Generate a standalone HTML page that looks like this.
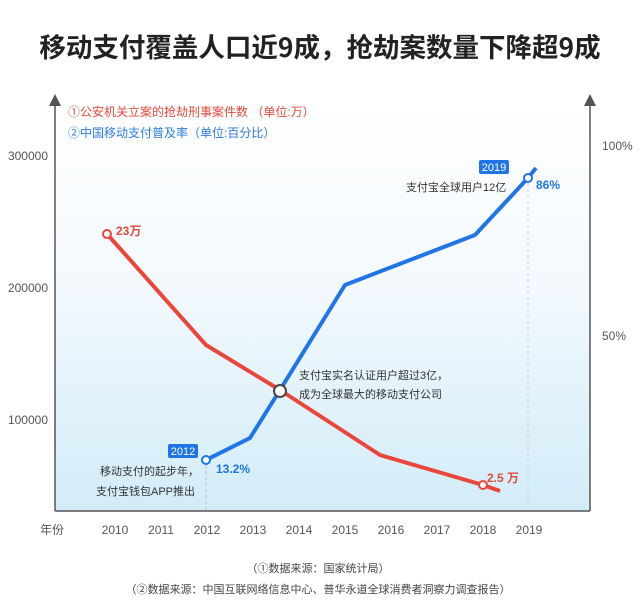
<!DOCTYPE html>
<html><head><meta charset="utf-8"><style>
html,body{margin:0;padding:0;background:#fff;}
svg{display:block;font-family:"Liberation Sans","Noto Sans CJK SC",sans-serif;}
</style></head><body>
<svg width="640" height="614" viewBox="0 0 640 614" xmlns="http://www.w3.org/2000/svg">
<defs>
<linearGradient id="bg" x1="0" y1="0" x2="0" y2="1">
<stop offset="0" stop-color="#ffffff"/><stop offset="0.45" stop-color="#f3f9fd"/><stop offset="1" stop-color="#d2ecf8"/>
</linearGradient>
<marker id="ar" markerWidth="8" markerHeight="8" refX="4" refY="4" orient="auto"><path d="M0,0 L8,4 L0,8 z" fill="#555"/></marker>
</defs>
<text x="320" y="57" text-anchor="middle" font-size="26.5" font-weight="bold" fill="#222" font-family="'Noto Sans CJK SC',sans-serif">移动支付覆盖人口近9成，抢劫案数量下降超9成</text>
<rect x="55" y="100" width="535" height="411" fill="url(#bg)"/>
<line x1="55" y1="511" x2="590" y2="511" stroke="#555" stroke-width="1.5"/>
<line x1="55" y1="511" x2="55" y2="100" stroke="#555" stroke-width="1.5" marker-end="url(#ar)"/>
<line x1="590" y1="511" x2="590" y2="100" stroke="#555" stroke-width="1.5" marker-end="url(#ar)"/>
<g font-size="12" fill="#e04a3a"><text x="68" y="116">①公安机关立案的抢劫刑事案件数 （单位:万）</text></g>
<g font-size="12" fill="#2b7be0"><text x="68" y="137">②中国移动支付普及率（单位:百分比）</text></g>
<g font-size="12" fill="#555" text-anchor="end">
<text x="48" y="160">300000</text><text x="48" y="292">200000</text><text x="48" y="424">100000</text></g>
<g font-size="12" fill="#555"><text x="602" y="150">100%</text><text x="602" y="340">50%</text></g>
<g font-size="12" fill="#555" text-anchor="middle">
<text x="52" y="534">年份</text><text x="115" y="534">2010</text><text x="161" y="534">2011</text><text x="207" y="534">2012</text><text x="253" y="534">2013</text><text x="299" y="534">2014</text><text x="345" y="534">2015</text><text x="391" y="534">2016</text><text x="437" y="534">2017</text><text x="483" y="534">2018</text><text x="529" y="534">2019</text></g>
<line x1="206" y1="465" x2="206" y2="511" stroke="#bbb" stroke-dasharray="3,3"/>
<line x1="528" y1="183" x2="528" y2="511" stroke="#ccd" stroke-dasharray="3,3"/>
<polyline points="107,234 206,345 280,390 380,455 483,485 500,491" fill="none" stroke="#e8473a" stroke-width="4" stroke-linejoin="round"/>
<polyline points="206,460 250,438 280,390 345,285 475,235 528,178 536,168" fill="none" stroke="#1f74e6" stroke-width="4" stroke-linejoin="round"/>
<circle cx="107" cy="234" r="4" fill="#fff" stroke="#e8473a" stroke-width="2"/>
<circle cx="483" cy="485" r="4" fill="#fff" stroke="#e8473a" stroke-width="2"/>
<circle cx="206" cy="460" r="4" fill="#fff" stroke="#1f74e6" stroke-width="2"/>
<circle cx="528" cy="178" r="4" fill="#fff" stroke="#1f74e6" stroke-width="2"/>
<circle cx="280" cy="391" r="6" fill="#fff" stroke="#444" stroke-width="2"/>
<g font-size="12" font-weight="bold"><text x="116" y="235" fill="#e04a3a">23万</text><text x="487" y="482" fill="#e04a3a">2.5 万</text>
<text x="216" y="473" fill="#1f74e6">13.2%</text><text x="536" y="189" fill="#1f74e6">86%</text></g>
<rect x="168" y="444" width="30" height="14" rx="2" fill="#1f74e6"/><text x="183" y="455" font-size="11" fill="#fff" text-anchor="middle">2012</text>
<rect x="479" y="160" width="30" height="14" rx="2" fill="#1f74e6"/><text x="494" y="171" font-size="11" fill="#fff" text-anchor="middle">2019</text>
<g font-size="11" fill="#333">
<text x="100" y="475">移动支付的起步年，</text><text x="96" y="495">支付宝钱包APP推出</text>
<text x="406" y="191">支付宝全球用户12亿</text>
<text x="277" y="379" dx="22">支付宝实名认证用户超过3亿，</text><text x="299" y="398">成为全球最大的移动支付公司</text></g>
<g font-size="11" fill="#444" text-anchor="middle"><text x="318" y="572">（①数据来源：国家统计局）</text><text x="318" y="593">（②数据来源：中国互联网络信息中心、普华永道全球消费者洞察力调查报告）</text></g>
</svg>
</body></html>
